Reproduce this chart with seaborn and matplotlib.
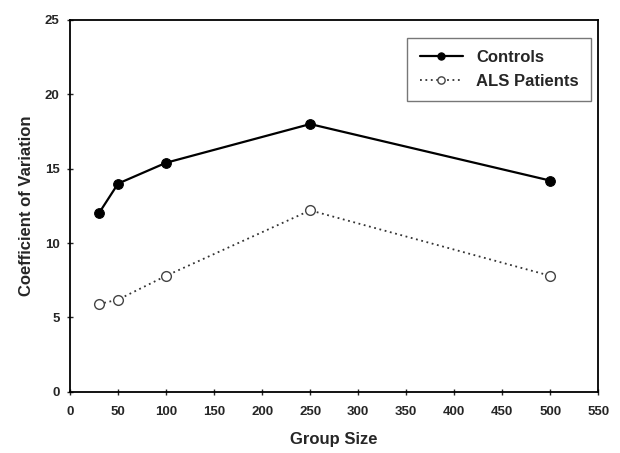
import matplotlib
matplotlib.use("Agg")
import matplotlib.pyplot as plt
import seaborn as sns
import pandas as pd

group_size = [30, 50, 100, 250, 500]
controls = [12.0, 14.0, 15.4, 18.0, 14.2]
als_patients = [5.9, 6.2, 7.8, 12.2, 7.8]

sns.set_theme(style="ticks")
plt.rcParams['font.family'] = ['Liberation Sans', 'DejaVu Sans']
plt.rcParams['font.weight'] = 'bold'

fig = plt.figure(figsize=(6.2, 4.53), dpi=100)
ax = fig.add_axes([0.113, 0.135, 0.852, 0.821])

df_c = pd.DataFrame({"x": group_size, "y": controls})
df_a = pd.DataFrame({"x": group_size, "y": als_patients})

sns.lineplot(data=df_c, x="x", y="y", ax=ax, color="black", linewidth=1.6,
             marker="o", markersize=7, markerfacecolor="black",
             markeredgecolor="black", label="Controls")
sns.lineplot(data=df_a, x="x", y="y", ax=ax, color="#333333", linewidth=1.3,
             linestyle=(0, (1, 2)), marker="o", markersize=7,
             markerfacecolor="white", markeredgecolor="#444444",
             markeredgewidth=1.0, label="ALS Patients")

ax.set_xlim(0, 550)
ax.set_ylim(0, 25)
ax.set_xticks(range(0, 551, 50))
ax.set_yticks(range(0, 26, 5))
ax.tick_params(axis="both", labelsize=9.5, direction="inout", length=5, width=1)
ax.tick_params(axis="x", pad=8)
ax.tick_params(axis="y", pad=5)
for lab in ax.get_xticklabels() + ax.get_yticklabels():
    lab.set_fontweight("bold")
for s in ax.spines.values():
    s.set_linewidth(1.3)
    s.set_color("black")

ax.set_xlabel("Group Size", fontsize=12, fontweight="bold", labelpad=10)
ax.set_ylabel("Coefficient of Variation", fontsize=12, fontweight="bold", labelpad=8)

leg = ax.legend(loc="upper right", bbox_to_anchor=(0.987, 0.952), borderaxespad=0,
                frameon=True, fancybox=False, edgecolor="#555555", fontsize=12,
                handlelength=2.6, handletextpad=0.8, borderpad=0.75,
                labelspacing=0.5, markerscale=0.75)
leg.get_frame().set_linewidth(1.0)
for t in leg.get_texts():
    t.set_fontweight("bold")

fig.savefig("out.png", dpi=100)
